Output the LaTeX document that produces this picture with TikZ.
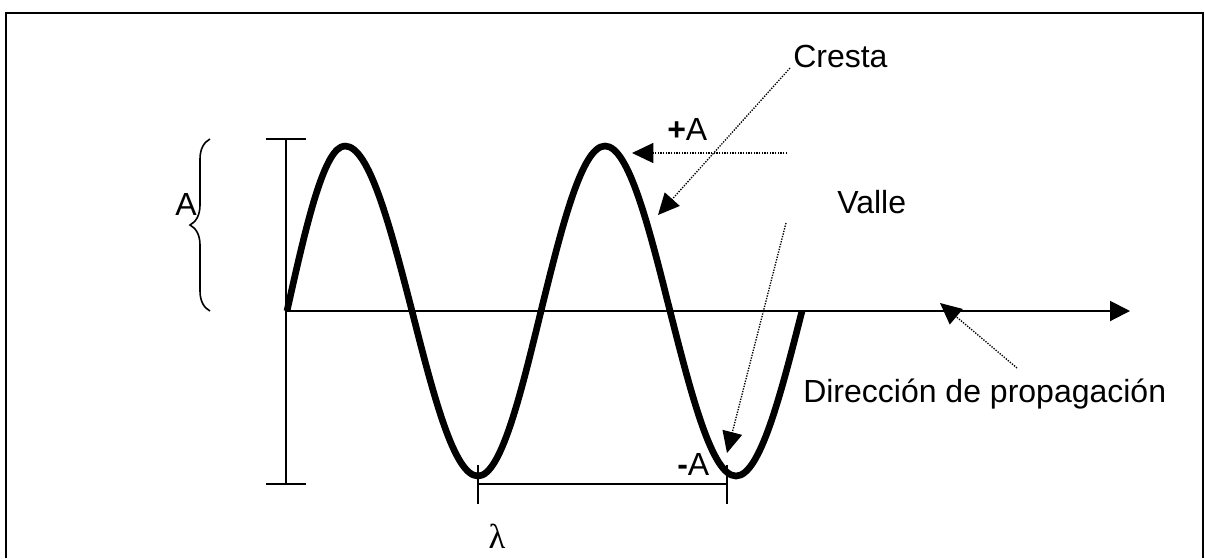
\documentclass[tikz,border=0pt]{standalone}
\usepackage{fontspec}
\setmainfont{Liberation Sans}
\newfontfamily\lamfont{Liberation Serif}
\usetikzlibrary{arrows.meta,decorations.pathreplacing}
\begin{document}
\begin{tikzpicture}[x=0.75pt,y=-0.75pt,
  lbl/.style={font=\fontsize{24pt}{28pt}\selectfont, inner sep=0pt},
  thinline/.style={line width=1.5pt},
  wave/.style={line width=5pt, line join=round},
  pointer/.style={line width=1pt, dash pattern=on 1pt off 1pt, -{Triangle[length=16pt,width=15pt]}},
  axisarrow/.style={line width=1.5pt, -{Triangle[length=15pt,width=15pt]}}]
\useasboundingbox (0,0) rectangle (1205,558);
% frame
\draw[thinline] (6,558) -- (6,13) -- (1203,13) -- (1203,558);
% labels
\node[lbl, anchor=base west] (cresta) at (793,67) {Cresta};
\node[lbl, anchor=base west] (valle) at (837,213) {Valle};
\node[lbl, anchor=base west] (dir) at (803,402) {Dirección de propagación};
\node[lbl, anchor=base west] (plusA) at (667,140) {\textbf{+}A};
\node[lbl, anchor=base west] (minusA) at (677,475) {\textbf{-}A};
\node[lbl, anchor=base west] (Alab) at (175,215) {A};
\node[lbl, anchor=base, font=\lamfont\fontsize{26pt}{30pt}\selectfont] (lam) at (497,548) {λ};
% axes
\coordinate (o) at (287,311);
\coordinate (xend) at (1130,311);
\draw[axisarrow] (o) -- (xend);
\coordinate (vtop) at (286,139);
\coordinate (vbot) at (286,484);
\draw[thinline] (vtop) -- (vbot);
\draw[thinline] (266,139) -- (306,139);
\draw[thinline] (266,484) -- (306,484);
% brace
\draw[line width=1.2pt, decorate, decoration={brace, amplitude=15pt}] (210,311) -- (210,139);
% wavelength bracket
\coordinate (l1) at (478,484);
\coordinate (l2) at (727,484);
\draw[thinline] (l1) -- (l2);
\draw[thinline] (478,465) -- (478,504);
\draw[thinline] (727,465) -- (727,504);
% wave
\draw[wave] (287,311) sin (345,146) cos (412,311) sin (478,476) cos (541,311)
  sin (605,146) cos (670,311) sin (736,476) cos (802,311);
% pointers
\coordinate (pa0) at (787,153); \coordinate (pa1) at (632,153);
\draw[pointer] (pa0) -- (pa1);
\coordinate (cr0) at (790,68); \coordinate (cr1) at (658,215);
\draw[pointer] (cr0) -- (cr1);
\coordinate (va0) at (786,223); \coordinate (va1) at (727,453);
\draw[pointer] (va0) -- (va1);
\coordinate (di0) at (1017,368); \coordinate (di1) at (940,303);
\draw[pointer] (di0) -- (di1);
\end{tikzpicture}
\end{document}
